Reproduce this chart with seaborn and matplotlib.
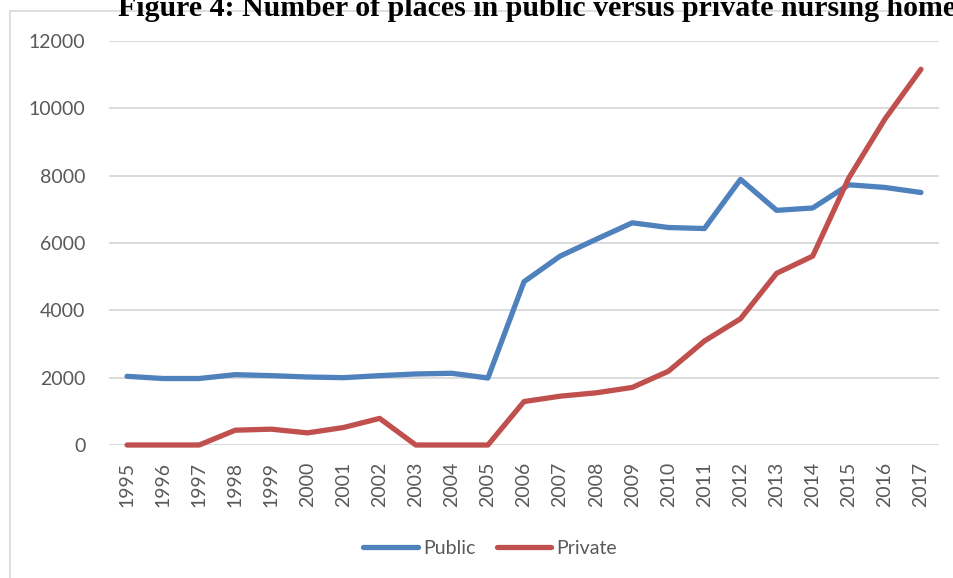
import matplotlib
matplotlib.use("Agg")
import matplotlib.pyplot as plt
import seaborn as sns
import pandas as pd
from matplotlib.patches import Rectangle
from matplotlib.lines import Line2D

years = list(range(1995, 2018))
public = [2040, 1975, 1975, 2090, 2060, 2020, 2000, 2060, 2110, 2130, 1990,
          4850, 5610, 6110, 6600, 6460, 6430, 7890, 6970, 7040, 7730, 7650, 7500]
private = [0, 0, 0, 440, 470, 360, 520, 790, 0, 0, 0,
           1290, 1450, 1550, 1710, 2190, 3090, 3750, 5100, 5610, 7930, 9680, 11160]
series_names = ["Public", "Private"]
colors = ["#4F81BD", "#C0504D"]
title = "Figure 4: Number of places in public versus private nursing homes"

df = pd.DataFrame({
    "year": years * 2,
    "value": public + private,
    "series": [series_names[0]] * len(years) + [series_names[1]] * len(years),
})

sns.set_theme(style="white")
plt.rcParams["font.family"] = ["Lato", "DejaVu Sans"]

W, H = 954, 578
fig = plt.figure(figsize=(W / 100, H / 100), dpi=100)
ax = fig.add_axes([109 / W, 1 - 445 / H, (939 - 109) / W, (445 - 41) / H])

sns.lineplot(data=df, x="year", y="value", hue="series", palette=colors,
             linewidth=3.8, ax=ax, legend=False)
for ln in ax.get_lines():
    ln.set_solid_capstyle("round")
    ln.set_solid_joinstyle("round")
    ln.set_clip_on(False)

ax.set_xlim(1994.5, 2017.5)
ax.set_ylim(0, 12000)
ax.set_yticks(range(0, 12001, 2000))
ax.set_xticks(years)
ax.set_xticklabels([str(y) for y in years], rotation=90)
ax.grid(axis="y", color="#D9D9D9", linewidth=1.3)
ax.set_axisbelow(True)
for s in ax.spines.values():
    s.set_visible(False)
ax.tick_params(axis="y", length=0, pad=17, labelsize=14, labelcolor="#595959")
ax.tick_params(axis="x", length=0, pad=12, labelsize=14, labelcolor="#595959")
ax.set_xlabel("")
ax.set_ylabel("")

handles = [Line2D([0], [0], color=c, linewidth=3.8, solid_capstyle="round") for c in colors]
fig.legend(handles, series_names, loc="center", bbox_to_anchor=(490 / W, 1 - 548 / H),
           ncol=2, frameon=False, fontsize=14, handlelength=2.8, handletextpad=0.25,
           columnspacing=1.1, labelcolor="#595959")

# chart area frame
fig.add_artist(Rectangle((10 / W, -0.2), 1.2, 0.2 + (1 - 11 / H),
                         transform=fig.transFigure, fill=False,
                         edgecolor="#D9D9D9", linewidth=1.2))

fig.text(118 / W, 1 - 16 / H, title, family=["Liberation Serif", "DejaVu Serif"],
         fontweight="bold", fontsize=21.5, va="baseline", ha="left", color="black")

fig.savefig("out.png", dpi=100)
